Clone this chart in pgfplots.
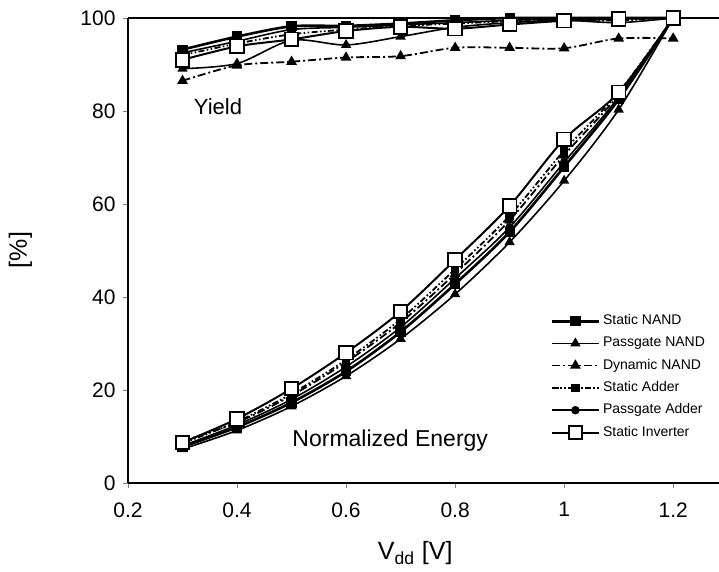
\documentclass[border=0pt]{standalone}
\usepackage{pgfplots}
\pgfplotsset{compat=1.18}
\usepackage{fontspec}
\setmainfont{Liberation Sans}
\pgfplotstableread{
x    sn    pn    dn    sa    pa    si
0.3  93.2  89.1  86.5  92.0  92.5  91.0
0.4  96.0  90.2  89.8  94.5  95.0  93.9
0.5  98.2  95.2  90.6  96.5  97.5  95.4
0.6  98.3  94.2  91.5  97.5  98.0  97.2
0.7  98.8  96.0  91.8  98.3  98.5  98.1
0.8  99.5  98.0  93.6  98.8  99.0  97.7
0.9  100   99.0  93.6  99.3  99.5  98.6
1.0  100   99.5  93.5  99.5  99.8  99.4
1.1  100   99.0  95.6  99.5  100   99.8
1.2  100   100   95.6  100   100   100
}\yieldtab
\pgfplotstableread{
x    sn    pn    dn    sa    pa    si
0.3  7.8   7.3   9.0   8.5   8.0   8.7
0.4  12.0  11.3  13.0  13.2  12.5  13.8
0.5  17.3  16.5  18.8  19.2  18.0  20.3
0.6  24.0  23.0  26.0  26.5  25.0  28.0
0.7  32.5  31.0  34.5  35.2  33.5  36.9
0.8  42.8  40.6  45.0  46.0  44.0  48.0
0.9  54.0  51.8  56.5  57.5  55.0  59.6
1.0  68.0  65.0  70.5  71.5  69.0  73.9
1.1  82.5  80.3  83.5  84.0  83.0  84.0
1.2  100   100   100   100   100   100
}\energytab
\begin{document}
\begin{tikzpicture}
\begin{axis}[
  scale only axis, width=295.5pt, height=232.5pt,
  xmin=0.2, xmax=1.284, ymin=0, ymax=100,
  axis x line*=box, axis y line*=left,
  xtick pos=left, ytick pos=left,
  tick align=outside, major tick length=2.5pt,
  xtick={0.2,0.4,0.6,0.8,1,1.2},
  ytick={0,20,40,60,80,100},
  /pgf/number format/assume math mode=true,
  tick label style={font=\fontsize{10.5}{12}\selectfont},
  xticklabel style={yshift=-3.5pt},
  xlabel={V\textsubscript{dd} [V]},
  ylabel={[\%]},
  label style={font=\fontsize{12.5}{14}\selectfont},
  xlabel style={at={(axis description cs:0.486,-0.151)}, anchor=center},
  ylabel style={at={(axis description cs:-0.182,0.501)}, anchor=center},
  clip=false,
  line width=0.8pt,
  every axis plot/.append style={smooth, tension=0.5},
  legend style={at={(rel axis cs:0.714,0.37)}, anchor=north west, draw=none, fill=none,
    font=\fontsize{7}{8}\selectfont, row sep=1.6pt, inner sep=0pt, nodes={inner sep=1.5pt}},
  legend cell align=left,
  legend image code/.code={\draw[mark repeat=2,mark phase=2,#1] plot coordinates {(0cm,0cm) (0.41cm,0cm) (0.82cm,0cm)};},
]
% Yield
\addplot[black, line width=1.3pt, mark=square*, mark size=1.9pt, forget plot] table[x=x,y=sn]{\yieldtab};
\addplot[black, line width=0.8pt, mark=triangle*, mark size=2.2pt, forget plot] table[x=x,y=pn]{\yieldtab};
\addplot[black, line width=0.9pt, dash pattern=on 4pt off 1.5pt on 1pt off 1.5pt, mark=triangle*, mark size=2.2pt, mark options={solid}, forget plot] table[x=x,y=dn]{\yieldtab};
\addplot[black, line width=0.9pt, dash pattern=on 3pt off 1.2pt on 0.8pt off 1.2pt on 0.8pt off 1.2pt, mark=square*, mark size=1.7pt, mark options={solid}, forget plot] table[x=x,y=sa]{\yieldtab};
\addplot[black, line width=0.8pt, mark=*, mark size=1.7pt, forget plot] table[x=x,y=pa]{\yieldtab};
\addplot[black, line width=1.0pt, mark=square*, mark size=3.4pt, mark options={fill=white, line width=0.9pt}, forget plot] table[x=x,y=si]{\yieldtab};
% Energy
\addplot[black, line width=1.3pt, mark=square*, mark size=1.9pt] table[x=x,y=sn]{\energytab};
\addlegendentry{Static NAND}
\addplot[black, line width=0.8pt, mark=triangle*, mark size=2.2pt] table[x=x,y=pn]{\energytab};
\addlegendentry{Passgate NAND}
\addplot[black, line width=0.9pt, dash pattern=on 4pt off 1.5pt on 1pt off 1.5pt, mark=triangle*, mark size=2.2pt, mark options={solid}] table[x=x,y=dn]{\energytab};
\addlegendentry{Dynamic NAND}
\addplot[black, line width=0.9pt, dash pattern=on 3pt off 1.2pt on 0.8pt off 1.2pt on 0.8pt off 1.2pt, mark=square*, mark size=1.7pt, mark options={solid}] table[x=x,y=sa]{\energytab};
\addlegendentry{Static Adder}
\addplot[black, line width=0.8pt, mark=*, mark size=1.7pt] table[x=x,y=pa]{\energytab};
\addlegendentry{Passgate Adder}
\addplot[black, line width=1.0pt, mark=square*, mark size=3.4pt, mark options={fill=white, line width=0.9pt}] table[x=x,y=si]{\energytab};
\addlegendentry{Static Inverter}
\node[font=\fontsize{11}{13}\selectfont] at (axis cs:0.365,80.9) {Yield};
\node[font=\fontsize{11.5}{13}\selectfont] at (axis cs:0.681,9.2) {Normalized Energy};
\coordinate (BL) at (rel axis cs:0,0);
\coordinate (TR) at (rel axis cs:1,1);
\end{axis}
\pgfresetboundingbox
\path ([xshift=-64pt,yshift=-44.5pt]BL) rectangle ([yshift=9pt]TR);
\end{tikzpicture}
\end{document}
